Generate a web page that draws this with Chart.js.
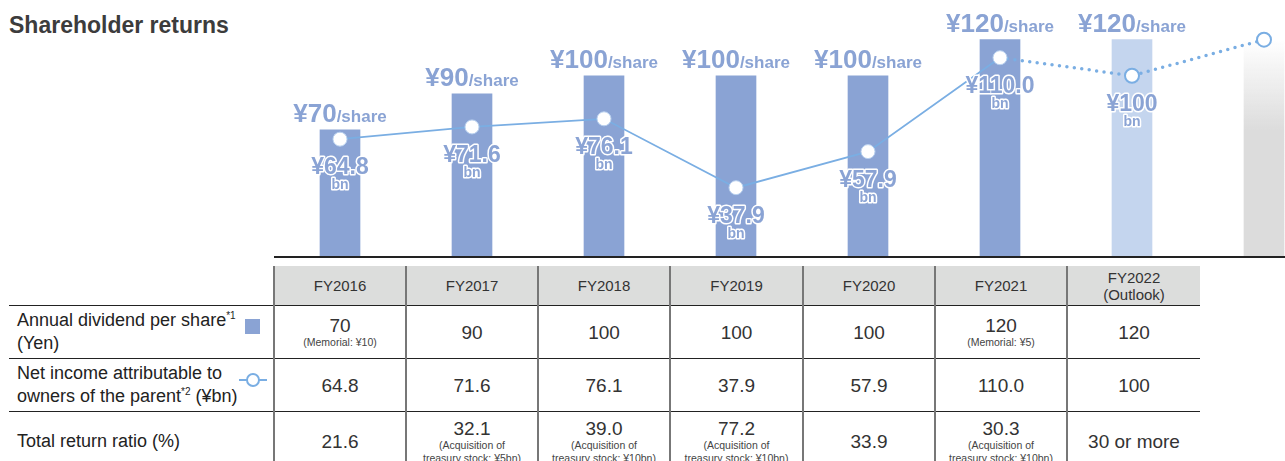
<!DOCTYPE html>
<html>
<head>
<meta charset="utf-8">
<script src="https://cdn.jsdelivr.net/npm/chart.js@4.4.1/dist/chart.umd.min.js"></script>
<style>
  body { margin: 0; width: 1285px; height: 461px; overflow: hidden; background: #fff; position: relative;
         font-family: "Liberation Sans", Arial, sans-serif; color: #333; }
  h1 { position: absolute; left: 9px; top: 12px; margin: 0; font-size: 23px; font-weight: bold; color: #3c3c3c; }
  #chartBox { position: absolute; left: 274px; top: 0; width: 1056px; height: 260px; }
  table { position: absolute; left: 9px; top: 266px; border-collapse: collapse; table-layout: fixed; }
  td { padding: 0; text-align: center; vertical-align: middle; border-left: 2px solid #777; border-bottom: 1px solid #222; }
  td.lab { border-left: none; text-align: left; padding-left: 8px; font-size: 18px; line-height: 23px; color: #222; position: relative; }
  tr.head td { height: 39px; background: #dcdddc; font-size: 15px; line-height: 17px; }
  tr.head td.lab { background: none; }
  tr.r1 td, tr.r2 td { height: 52px; }
  tr.r3 td { height: 58px; border-bottom: none; }
  .v { font-size: 19px; line-height: 21px; }
  .note { display: block; font-size: 10.5px; line-height: 13px; color: #444; }
  sup { font-size: 10px; line-height: 0; vertical-align: 7px; }
  .sq { position: absolute; left: 236px; top: 13px; width: 15px; height: 15px; background: #8aa3d4; }
  .ln { position: absolute; left: 230px; top: 20px; width: 28px; height: 2px; background: #7aaee3; }
  .ln::after { content: ""; position: absolute; left: 7px; top: -6px; width: 10px; height: 10px; border: 2px solid #7aaee3;
               border-radius: 50%; background: #fff; }
</style>
</head>
<body>
<h1>Shareholder returns</h1>
<div id="chartBox"><canvas id="returnsChart"></canvas></div>
<table id="returnsTable"></table>
<script>
const years = ['FY2016', 'FY2017', 'FY2018', 'FY2019', 'FY2020', 'FY2021', 'FY2022'];
const yearHeads = ['FY2016', 'FY2017', 'FY2018', 'FY2019', 'FY2020', 'FY2021', 'FY2022<br>(Outlook)'];
const dividends = [70, 90, 100, 100, 100, 120, 120];
const dividendNotes = ['(Memorial: ¥10)', '', '', '', '', '(Memorial: ¥5)', ''];
const netIncome = [64.8, 71.6, 76.1, 37.9, 57.9, 110.0, 100];
const netIncomeNext = 120;   // next point, past the last column
const shadeTop = 120;        // grey column after FY2022
const totalReturn = ['21.6', '32.1', '39.0', '77.2', '33.9', '30.3', '30 or more'];
const returnNotes = ['', '(Acquisition of<br>treasury stock: ¥5bn)', '(Acquisition of<br>treasury stock: ¥10bn)',
  '(Acquisition of<br>treasury stock: ¥10bn)', '', '(Acquisition of<br>treasury stock: ¥10bn)', ''];

const BAR = '#8aa3d4';
const BAR_OUTLOOK = '#c4d5ee';
const LINE = '#7aaee3';
const FONT = '"Liberation Sans", Arial, sans-serif';

// net income shown with one decimal for actuals, plain for the outlook
function fmtIncome(v, i) {
  return i < 6 ? v.toFixed(1) : String(v);
}

// --- table under the chart ---
function buildTable() {
  const t = document.getElementById('returnsTable');
  let html = '<colgroup><col style="width:265px">';
  [132, 132, 132, 133, 132, 132, 133].forEach(w => { html += '<col style="width:' + w + 'px">'; });
  html += '</colgroup>';
  html += '<tr class="head"><td class="lab"></td>' + yearHeads.map(h => '<td>' + h + '</td>').join('') + '</tr>';
  html += '<tr class="r1"><td class="lab">Annual dividend per share<sup>*1</sup><br>(Yen)<span class="sq"></span></td>' +
    dividends.map((d, i) => '<td><span class="v">' + d + '</span>' +
      (dividendNotes[i] ? '<span class="note">' + dividendNotes[i] + '</span>' : '') + '</td>').join('') + '</tr>';
  html += '<tr class="r2"><td class="lab">Net income attributable to<br>owners of the parent<sup>*2</sup> (¥bn)<span class="ln"></span></td>' +
    netIncome.map((v, i) => '<td><span class="v">' + fmtIncome(v, i) + '</span></td>').join('') + '</tr>';
  html += '<tr class="r3"><td class="lab">Total return ratio (%)</td>' +
    totalReturn.map((v, i) => '<td><span class="v">' + v + '</span>' +
      (returnNotes[i] ? '<span class="note">' + returnNotes[i] + '</span>' : '') + '</td>').join('') + '</tr>';
  t.innerHTML = html;
}
buildTable();

// baseline under the bars
const baseline = {
  id: 'baseline',
  afterDatasetsDraw(chart) {
    const ctx = chart.ctx;
    const y = chart.scales.y.getPixelForValue(0) + 1;
    ctx.save();
    ctx.strokeStyle = '#222';
    ctx.lineWidth = 2;
    ctx.beginPath();
    ctx.moveTo(chart.chartArea.left, y);
    ctx.lineTo(chart.chartArea.right, y);
    ctx.stroke();
    ctx.restore();
  }
};

// "¥70/share" above bars and "¥64.8 bn" under the income points
const valueLabels = {
  id: 'valueLabels',
  afterDatasetsDraw(chart) {
    const ctx = chart.ctx;
    const pts = chart.getDatasetMeta(0).data;
    const bars = chart.getDatasetMeta(1).data;
    ctx.save();
    ctx.textBaseline = 'alphabetic';
    ctx.fillStyle = BAR;
    years.forEach((yr, i) => {
      const bar = bars[i];
      const big = '¥' + dividends[i];
      ctx.font = 'bold 26px ' + FONT;
      const wBig = ctx.measureText(big).width;
      ctx.font = 'bold 17px ' + FONT;
      const wSmall = ctx.measureText('/share').width;
      const x0 = bar.x - (wBig + wSmall) / 2;
      ctx.textAlign = 'left';
      ctx.font = 'bold 26px ' + FONT;
      ctx.fillText(big, x0, bar.y - 8);
      ctx.font = 'bold 17px ' + FONT;
      ctx.fillText('/share', x0 + wBig, bar.y - 8);

      const p = pts[i];
      ctx.textAlign = 'center';
      ctx.lineJoin = 'round';
      ctx.strokeStyle = '#fff';
      ctx.lineWidth = 3;
      const txt = '¥' + fmtIncome(netIncome[i], i);
      ctx.font = 'bold 23px ' + FONT;
      ctx.strokeText(txt, p.x, p.y + 35);
      ctx.fillText(txt, p.x, p.y + 35);
      ctx.font = 'bold 14px ' + FONT;
      ctx.strokeText('bn', p.x, p.y + 50);
      ctx.fillText('bn', p.x, p.y + 50);
    });
    ctx.restore();
  }
};

const labels = [...years, ''];
const incomeSeries = [...netIncome, netIncomeNext];
const dividendSeries = [...dividends, null];
const shadeSeries = [null, null, null, null, null, null, null, shadeTop];

new Chart(document.getElementById('returnsChart'), {
  type: 'bar',
  data: {
    labels: labels,
    datasets: [
      {
        type: 'line',
        label: 'Net income attributable to owners of the parent',
        data: incomeSeries,
        order: 0,
        clip: false,
        borderColor: LINE,
        borderWidth: 1.8,
        borderCapStyle: 'round',
        tension: 0,
        pointRadius: 7,
        pointHoverRadius: 7,
        pointBackgroundColor: '#fff',
        pointBorderColor: c => c.dataIndex < 6 ? '#b9d1ef' : LINE,
        pointBorderWidth: c => c.dataIndex < 6 ? 1 : 2,
        segment: {
          borderDash: c => c.p0DataIndex >= 5 ? [0, 7.5] : undefined,
          borderWidth: c => c.p0DataIndex >= 5 ? 3.5 : undefined
        }
      },
      {
        label: 'Annual dividend per share',
        data: dividendSeries,
        order: 1,
        grouped: false,
        barThickness: 40,
        backgroundColor: dividends.map((d, i) => i < 6 ? BAR : BAR_OUTLOOK)
      },
      {
        label: '',
        data: shadeSeries,
        order: 2,
        grouped: false,
        barThickness: 40,
        backgroundColor(c) {
          const chart = c.chart;
          if (!chart.chartArea) return '#dcdcdc';
          const top = chart.scales.y.getPixelForValue(shadeTop);
          const g = chart.ctx.createLinearGradient(0, top, 0, chart.chartArea.bottom);
          g.addColorStop(0, 'rgba(220,220,220,0)');
          g.addColorStop(0.42, '#dcdcdc');
          g.addColorStop(1, '#dcdcdc');
          return g;
        }
      }
    ]
  },
  options: {
    responsive: true,
    maintainAspectRatio: false,
    animation: false,
    layout: { autoPadding: false, padding: { top: 0, bottom: 4, left: 0, right: 0 } },
    plugins: {
      legend: { display: false },
      tooltip: { enabled: false },
      title: { display: false }
    },
    scales: {
      x: { display: false },
      y: { display: false, min: 0, max: 142 }
    }
  },
  plugins: [baseline, valueLabels]
});
</script>
</body>
</html>
